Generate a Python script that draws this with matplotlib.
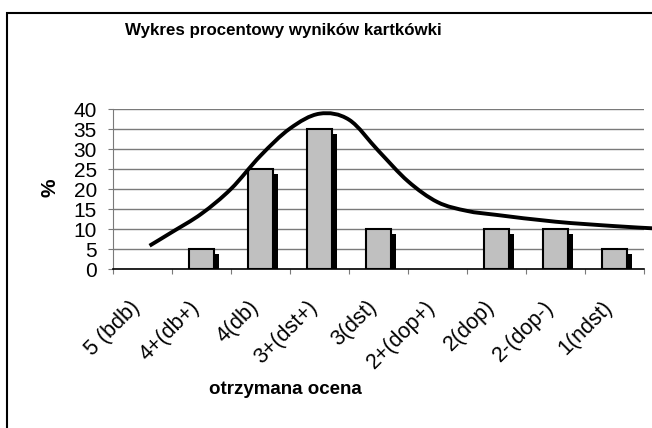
import numpy as np
import matplotlib
matplotlib.use("Agg")
import matplotlib.pyplot as plt
from matplotlib.path import Path
from matplotlib.patches import PathPatch, Rectangle

plt.rcParams['font.family'] = ['Liberation Sans', 'DejaVu Sans']

# data
oceny = ["5 (bdb)", "4+(db+)", "4(db)", "3+(dst+)", "3(dst)",
         "2+(dop+)", "2(dop)", "2-(dop-)", "1(ndst)"]
procent = [0, 5, 25, 35, 10, 0, 10, 10, 5]

# smooth curve: points on the drawn line (x in category units)
krzywa_x = [0.12, 0.5, 1, 1.5, 2, 2.5, 3, 3.5, 4, 4.5, 5, 5.5, 6, 7, 8, 8.64]
krzywa_y = [5.9, 9.3, 13.9, 20.1, 28.4, 35.2, 38.9, 37.4, 29.6, 22.0,
            16.8, 14.6, 13.6, 11.9, 10.8, 10.25]

W, H = 652, 428
fig = plt.figure(figsize=(W/100, H/100), dpi=100)

# chart frame (cropped on the right and bottom)
fig.patches.append(Rectangle((7/W, -0.1), 1.2, 1 - 12.7/H + 0.1,
                             transform=fig.transFigure, fill=False,
                             edgecolor='black', lw=1.5))

ax = fig.add_axes([113/W, 1 - 269.3/H, (644 - 113)/W, (269.3 - 109.3)/H])
ax.set_xlim(-0.5, 8.5)
ax.set_ylim(0, 40)

x = np.arange(len(oceny))
vals = np.array(procent, dtype=float)

# bars with black "3D" shadow
szer = 0.41
cien = np.where(vals > 0, vals - 1.2, 0)
ax.bar(x + 0.085, cien, width=szer, color='black', lw=0, zorder=2)
ax.bar(x[vals > 0], vals[vals > 0], width=szer, color='#c0c0c0',
       edgecolor='black', lw=1.5, zorder=3)

# smoothed line (Catmull-Rom as bezier segments)
pts = np.column_stack([krzywa_x, krzywa_y])
verts = [pts[0]]
codes = [Path.MOVETO]
n = len(pts)
for i in range(n - 1):
    p0 = pts[max(i - 1, 0)]
    p1 = pts[i]
    p2 = pts[i + 1]
    p3 = pts[min(i + 2, n - 1)]
    verts += [p1 + (p2 - p0)/6, p2 - (p3 - p1)/6, p2]
    codes += [Path.CURVE4]*3
ax.add_patch(PathPatch(Path(verts, codes), fill=False, edgecolor='black',
                       lw=2.8, capstyle='butt', zorder=4, clip_on=False))

# grid and axes
ax.set_yticks(np.arange(0, 41, 5))
ax.yaxis.grid(True, color='#7a7a7a', lw=1)
ax.set_axisbelow(True)
for s in ['top', 'right']:
    ax.spines[s].set_visible(False)
ax.spines['left'].set_color('#7a7a7a')
ax.spines['bottom'].set_color('black')
ax.spines['bottom'].set_linewidth(1.2)
ax.tick_params(axis='y', length=3.6, color='#7a7a7a', pad=8, labelsize=15)

ax.set_xticks(np.arange(-0.5, 9, 1))
ax.set_xticklabels([])
ax.tick_params(axis='x', which='major', length=3.6, color='#7a7a7a')
ax.set_xticks(x - 0.09, labels=oceny, minor=True)
ax.tick_params(axis='x', which='minor', length=0, pad=25, labelsize=15.5)
for lab in ax.get_xticklabels(minor=True):
    lab.set_rotation(45)
    lab.set_ha('right')
    lab.set_va('center')
    lab.set_rotation_mode('anchor')

fig.text(283/W, 1 - 31/H, "Wykres procentowy wyników kartkówki",
         ha='center', va='center', fontsize=12.2, fontweight='bold')
fig.text(285/W, 1 - 390/H, "otrzymana ocena", ha='center', va='center',
         fontsize=13.5, fontweight='bold')
fig.text(50/W, 1 - 188/H, "%", ha='center', va='center', rotation=90,
         fontsize=15, fontweight='bold')

fig.savefig("out.png", dpi=100)
